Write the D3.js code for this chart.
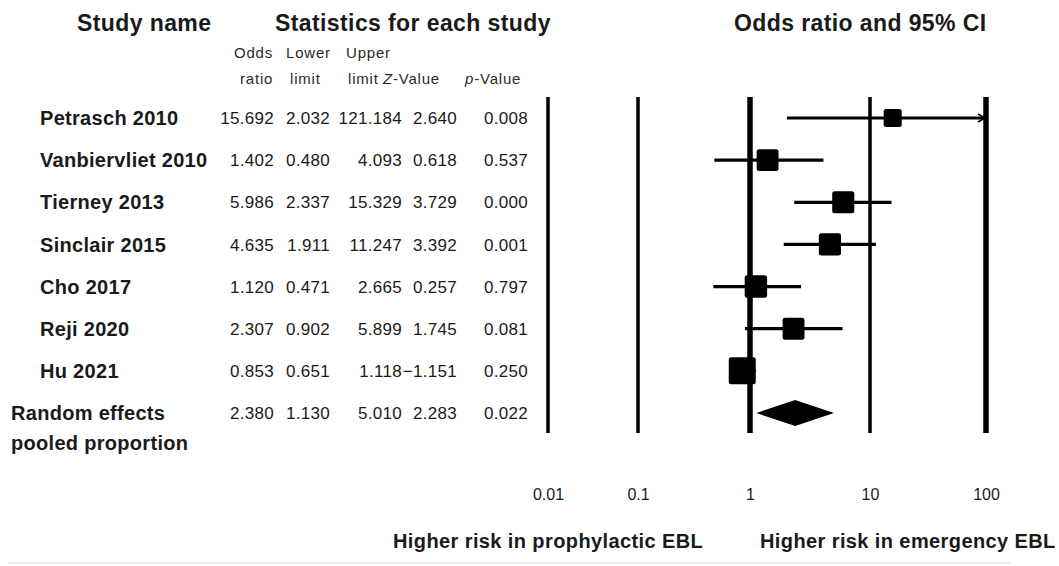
<!DOCTYPE html>
<html>
<head>
    <meta charset="utf-8">
    <title>Forest plot - odds ratio and 95% CI</title>
    <script src="https://d3js.org/d3.v7.min.js"></script>
    <style>
        body, html {
            margin: 0;
            padding: 0;
            background: #fff;
        }
        svg text {
            font-family: "Liberation Sans", Arial, sans-serif;
            fill: #1a1a1a;
        }
        .head { font-size: 23px; font-weight: bold; letter-spacing: 0.4px; }
        .sub { font-size: 15px; letter-spacing: 0.8px; fill: #2a2a2a; }
        .name { font-size: 20px; font-weight: bold; letter-spacing: 0.3px; }
        .num { font-size: 17px; letter-spacing: 0.3px; }
        .foot { font-size: 20px; font-weight: bold; letter-spacing: 0.4px; }
    </style>
</head>
<body>
<script>
    // values
    const studyNames = ["Petrasch 2010", "Vanbiervliet 2010", "Tierney 2013", "Sinclair 2015",
        "Cho 2017", "Reji 2020", "Hu 2021", "Random effects\npooled proportion"];
    const oddsRatios = [15.692, 1.402, 5.986, 4.635, 1.120, 2.307, 0.853, 2.380];
    const lowerLimits = [2.032, 0.480, 2.337, 1.911, 0.471, 0.902, 0.651, 1.130];
    const upperLimits = [121.184, 4.093, 15.329, 11.247, 2.665, 5.899, 1.118, 5.010];
    const zValues = [2.640, 0.618, 3.729, 3.392, 0.257, 1.745, -1.151, 2.283];
    const pValues = [0.008, 0.537, 0.000, 0.001, 0.797, 0.081, 0.250, 0.022];
    // relative weights, estimated from the size of the squares
    const studyWeights = [13, 19, 19.5, 19.5, 20, 19, 29];
    const axisTicks = [0.01, 0.1, 1, 10, 100];

    const width = 1059, height = 566;
    const fmt = d3.format(".3f");
    const summaryIndex = studyNames.length - 1;

    const svg = d3.create("svg")
        .attr("width", width)
        .attr("height", height)
        .attr("viewBox", [0, 0, width, height]);

    // log axis, the reference spacing between decades is uneven so use a piecewise range
    const x = d3.scaleLog()
        .domain(axisTicks)
        .range([548, 638, 750, 870, 986]);

    const y = d3.scaleLinear()
        .domain([0, summaryIndex])
        .range([118, 413]);

    const side = d3.scaleSqrt()
        .domain([0, d3.max(studyWeights)])
        .range([0, 27]);

    // headers
    svg.append("text").attr("class", "head").attr("x", 77).attr("y", 31).text("Study name");
    svg.append("text").attr("class", "head").attr("x", 275).attr("y", 31).text("Statistics for each study");
    svg.append("text").attr("class", "head").attr("x", 734).attr("y", 31).text("Odds ratio and 95% CI");

    const statColumns = [
        {values: oddsRatios, right: 274, head: ["Odds", "ratio"], hx: [234, 240]},
        {values: lowerLimits, right: 330, head: ["Lower", "limit"], hx: [286, 290]},
        {values: upperLimits, right: 402, head: ["Upper", "limit"], hx: [346, 348]},
        {values: zValues, right: 457, head: ["", "Z-Value"], hx: [0, 383]},
        {values: pValues, right: 528, head: ["", "p-Value"], hx: [0, 465]}
    ];

    statColumns.forEach(col => {
        col.head.forEach((h, k) => {
            if (!h) return;
            const t = svg.append("text")
                .attr("class", "sub")
                .attr("x", col.hx[k])
                .attr("y", k === 0 ? 58 : 84);
            if (h.includes("-Value")) {
                t.append("tspan").style("font-style", "italic").text(h[0]);
                t.append("tspan").text(h.slice(1));
            } else {
                t.text(h);
            }
        });

        svg.append("g")
            .selectAll("text")
            .data(col.values)
            .join("text")
                .attr("class", "num")
                .attr("x", col.right)
                .attr("y", (d, i) => y(i))
                .attr("dy", "0.36em")
                .attr("text-anchor", "end")
                .text(d => fmt(d));
    });

    // study names
    svg.append("g")
        .selectAll("text")
        .data(studyNames)
        .join("text")
            .attr("class", "name")
            .attr("x", (d, i) => i === summaryIndex ? 11 : 40)
            .attr("y", (d, i) => y(i))
            .each(function(d) {
                const lines = d.split("\n");
                d3.select(this).selectAll("tspan")
                    .data(lines)
                    .join("tspan")
                        .attr("x", lines.length > 1 ? 11 : null)
                        .attr("dy", (l, k) => k === 0 ? "0.36em" : "1.5em")
                        .text(l => l);
            });

    // vertical reference lines
    svg.append("g")
        .selectAll("line")
        .data(axisTicks)
        .join("line")
            .attr("x1", d => x(d))
            .attr("x2", d => x(d))
            .attr("y1", 97)
            .attr("y2", 433)
            .attr("stroke", "#000")
            .attr("stroke-width", d => (d === 1 || d === 100) ? 5.5 : 3.5);

    // confidence intervals
    const studies = d3.range(summaryIndex);
    const xMax = d3.max(axisTicks);

    svg.append("g")
        .selectAll("line")
        .data(studies)
        .join("line")
            .attr("x1", i => x(lowerLimits[i]))
            .attr("x2", i => upperLimits[i] > xMax ? x(xMax) - 1 : x(upperLimits[i]))
            .attr("y1", i => y(i))
            .attr("y2", i => y(i))
            .attr("stroke", "#000")
            .attr("stroke-width", 3.2);

    // arrows for intervals running off the axis
    svg.append("g")
        .selectAll("path")
        .data(studies.filter(i => upperLimits[i] > xMax))
        .join("path")
            .attr("d", i => {
                const ax = x(xMax) - 1, ay = y(i);
                return `M${ax - 7},${ay - 4}L${ax},${ay}L${ax - 7},${ay + 4}`;
            })
            .attr("fill", "none")
            .attr("stroke", "#000")
            .attr("stroke-width", 1.5);

    // point estimates
    svg.append("g")
        .selectAll("rect")
        .data(studies)
        .join("rect")
            .attr("x", i => x(oddsRatios[i]) - side(studyWeights[i]) / 2)
            .attr("y", i => y(i) - side(studyWeights[i]) / 2)
            .attr("width", i => side(studyWeights[i]))
            .attr("height", i => side(studyWeights[i]))
            .attr("rx", 2.5)
            .attr("fill", "#000");

    // pooled diamond
    const dy = y(summaryIndex);
    svg.append("path")
        .attr("d", `M${x(lowerLimits[summaryIndex])},${dy}` +
            `L${x(oddsRatios[summaryIndex])},${dy - 13}` +
            `L${x(upperLimits[summaryIndex])},${dy}` +
            `L${x(oddsRatios[summaryIndex])},${dy + 13}Z`)
        .attr("fill", "#000");

    // axis labels
    const axis = svg.append("g")
        .attr("transform", "translate(0,489)")
        .call(d3.axisBottom(x)
            .tickValues(axisTicks)
            .tickFormat(d => String(d))
            .tickSize(0)
            .tickPadding(0));
    axis.select(".domain").remove();
    axis.selectAll("text")
        .attr("font-family", null)
        .style("font-size", "16px")
        .style("fill", "#1a1a1a");

    svg.append("text").attr("class", "foot").attr("x", 393).attr("y", 548).text("Higher risk in prophylactic EBL");
    svg.append("text").attr("class", "foot").attr("x", 760).attr("y", 548).text("Higher risk in emergency EBL");

    // faint rule under the figure
    svg.append("line")
        .attr("x1", 8).attr("x2", 1010)
        .attr("y1", 563).attr("y2", 563)
        .attr("stroke", "#ececec")
        .attr("stroke-width", 2);

    document.body.appendChild(svg.node());
</script>
</body>
</html>
